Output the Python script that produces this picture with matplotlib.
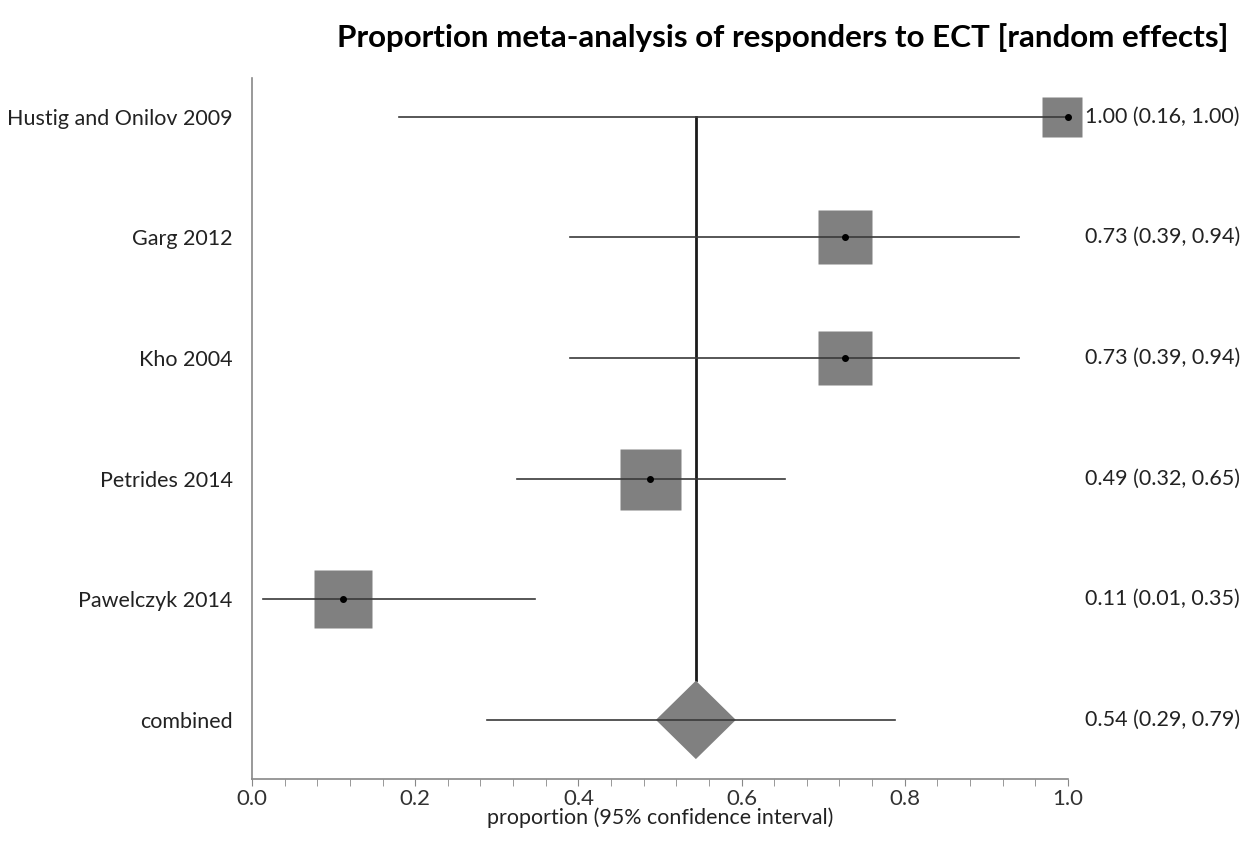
import matplotlib

matplotlib.use("Agg")
import matplotlib.pyplot as plt
import numpy as np
from matplotlib.patches import Polygon
from matplotlib.ticker import FormatStrFormatter, MultipleLocator

# study rows, top to bottom (last row is the pooled estimate)
studies = ["Hustig and Onilov 2009", "Garg 2012", "Kho 2004", "Petrides 2014", "Pawelczyk 2014"]
estimates = [1.00, 0.727, 0.727, 0.488, 0.111]
box_centers = [0.993, 0.727, 0.727, 0.488, 0.111]  # square centre as drawn in the source
ci_low = [0.18, 0.39, 0.39, 0.325, 0.013]
ci_high = [1.00, 0.94, 0.94, 0.653, 0.347]
weights = [40, 54, 54, 61, 58]  # square side, relative
ci_text = ["1.00 (0.16, 1.00)", "0.73 (0.39, 0.94)", "0.73 (0.39, 0.94)",
           "0.49 (0.32, 0.65)", "0.11 (0.01, 0.35)"]

pooled_label = "combined"
pooled_est = 0.544
pooled_low = 0.288
pooled_high = 0.788
pooled_diamond = (0.495, 0.593)
pooled_text = "0.54 (0.29, 0.79)"

TITLE = "Proportion meta-analysis of responders to ECT [random effects]"
XLABEL = "proportion (95% confidence interval)"

plt.rcParams["font.family"] = ["Lato", "DejaVu Sans"]

fig = plt.figure(figsize=(12.45, 8.41), dpi=100)
ax = fig.add_axes([0.2024, 0.0737, 0.6554, 0.8336])

n = len(studies)
ypos = np.arange(n, 0, -1, dtype=float)  # 5..1, pooled at 0
line_col = "#3a3a3a"
box_col = "#808080"
txt_col = "#222222"
fs = 15.5

# vertical line at pooled estimate
ax.plot([pooled_est, pooled_est], [ypos[0], 0.33], color="#1a1a1a", lw=2.0, zorder=2)

for i in range(n):
    ax.plot([ci_low[i], ci_high[i]], [ypos[i], ypos[i]], color=line_col, lw=1.2, zorder=3)
    ax.plot(box_centers[i], ypos[i], marker="s", ms=weights[i] * 0.72, color=box_col,
            mec="none", zorder=2.5, clip_on=False)
    ax.plot(estimates[i], ypos[i], marker="o", ms=4, color="black", zorder=4, clip_on=False)
    ax.text(1.021, ypos[i], ci_text[i], transform=ax.get_yaxis_transform(),
            ha="left", va="center", fontsize=fs, color=txt_col)

# pooled diamond
dl, dr = pooled_diamond
diamond = Polygon([[dl, 0], [pooled_est, 0.325], [dr, 0], [pooled_est, -0.325]],
                  closed=True, facecolor=box_col, edgecolor="none", zorder=2.5)
ax.add_patch(diamond)
ax.plot([pooled_low, pooled_high], [0, 0], color=line_col, lw=1.2, zorder=3)
ax.text(1.021, 0, pooled_text, transform=ax.get_yaxis_transform(),
        ha="left", va="center", fontsize=fs, color=txt_col)

ax.set_xlim(0, 1.0)
ax.set_ylim(-0.49, 5.32)
ax.set_yticks(list(ypos) + [0])
ax.set_yticklabels(studies + [pooled_label], fontsize=fs, color=txt_col)
ax.tick_params(axis="y", length=0, pad=14)

ax.xaxis.set_major_locator(MultipleLocator(0.2))
ax.xaxis.set_minor_locator(MultipleLocator(0.04))
ax.xaxis.set_major_formatter(FormatStrFormatter("%.1f"))
ax.tick_params(axis="x", which="both", length=5, color="#888888", labelsize=16,
               labelcolor="#333333", pad=2)
ax.set_xlabel(XLABEL, fontsize=15.4, color=txt_col, labelpad=-1)

for side in ("top", "right"):
    ax.spines[side].set_visible(False)
for side in ("left", "bottom"):
    ax.spines[side].set_color("#888888")
    ax.spines[side].set_linewidth(1.2)

fig.text(0.6285, 0.955, TITLE, ha="center", va="center", fontsize=22.6,
         fontweight="bold", color="black")

fig.savefig("out.png", dpi=100)
plt.close(fig)
